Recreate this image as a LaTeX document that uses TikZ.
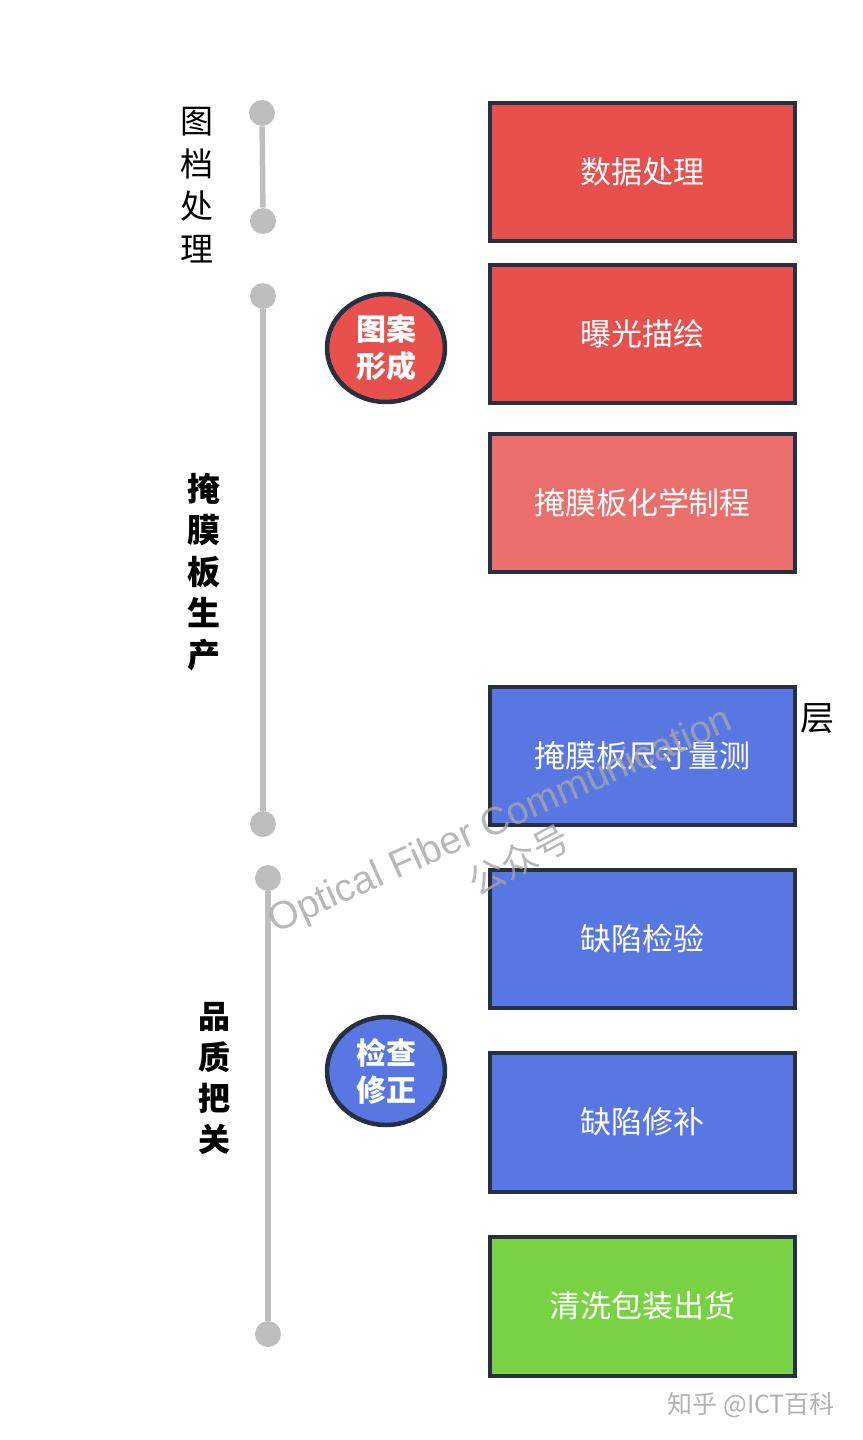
\documentclass[tikz,border=0pt]{standalone}
\usepackage{fontspec}
\usepackage{xcolor}
\usetikzlibrary{shapes.geometric, positioning}
\setmainfont{Liberation Sans}
\newfontfamily\cjk{Noto Sans CJK SC}
\definecolor{stepred}{HTML}{E8504D}
\definecolor{steppink}{HTML}{EA6F6C}
\definecolor{stepblue}{HTML}{5877E3}
\definecolor{stepgreen}{HTML}{78D243}
\definecolor{edgedark}{HTML}{263040}
\definecolor{linegray}{HTML}{BEBEBE}
\tikzset{
  stagebox/.style={draw=edgedark, line width=0.08cm, minimum width=6.1cm, minimum height=2.78cm, inner sep=0pt, text=white, font=\cjk\fontsize{0.62cm}{0.75cm}\selectfont},
  badge/.style={ellipse, draw=edgedark, line width=0.09cm, minimum width=2.36cm, minimum height=2.16cm, inner sep=0pt, text=white, align=center, font=\cjk\bfseries\fontsize{0.6cm}{0.74cm}\selectfont},
  dot/.style={circle, fill=linegray, minimum size=0.52cm, inner sep=0pt},
  rail/.style={linegray, line width=0.11cm},
  phase/.style={align=center, font=\cjk\fontsize{0.66cm}{0.85cm}\selectfont},
  phasebold/.style={phase, font=\cjk\bfseries\fontsize{0.66cm}{0.83cm}\selectfont}
}
\begin{document}
\begin{tikzpicture}[x=0.02cm, y=-0.02cm]
      \useasboundingbox (0,0) rectangle (862,1440);

      \node[dot] (a1) at (262,113) {};
      \node[dot] (a2) at (263,221) {};
      \node[dot] (b1) at (263,296) {};
      \node[dot] (b2) at (263,824) {};
      \node[dot] (c1) at (268,878) {};
      \node[dot] (c2) at (268,1334) {};
      \draw [rail] (a1) -- (a2);
      \draw [rail] (b1) -- (b2);
      \draw [rail] (c1) -- (c2);

      \node[phase] (tuda) at (197,185) {图\\档\\处\\理};
      \node[phasebold] (yanmo) at (204,572) {掩\\膜\\板\\生\\产};
      \node[phasebold, font=\cjk\bfseries\fontsize{0.64cm}{0.82cm}\selectfont] (pinzhi) at (214,1078) {品\\质\\把\\关};

      \node[badge, fill=stepred] (tuan) at (386,348) {图案\\形成};
      \node[badge, fill=stepblue] (jiancha) at (386,1071) {检查\\修正};

      \node[stagebox, fill=stepred] (shuju) at (642.5,172) {数据处理};
      \node[stagebox, fill=stepred] (baoguang) at (642.5,334) {曝光描绘};
      \node[stagebox, fill=steppink] (huaxue) at (642.5,503) {掩膜板化学制程};
      \node[stagebox, fill=stepblue] (chicun) at (642.5,756) {掩膜板尺寸量测};
      \node[stagebox, fill=stepblue] (jianyan) at (642.5,939) {缺陷检验};
      \node[stagebox, fill=stepblue] (xiubu) at (642.5,1122) {缺陷修补};
      \node[stagebox, fill=stepgreen] (qingxi) at (642.5,1306) {清洗包装出货};

      \node[font=\cjk\fontsize{0.68cm}{0.8cm}\selectfont] (ceng) at (817,719) {层};

      \node[gray!70, opacity=0.8, rotate=24, font=\fontsize{0.78cm}{0.9cm}\selectfont] (mark) at (501,822) {Optical Fiber Communication};
      \node[gray!70, opacity=0.8, rotate=28, font=\cjk\fontsize{0.72cm}{0.9cm}\selectfont] (gongzhong) at (519,860) {公众号};
      \node[gray!60, anchor=east, font=\cjk\fontsize{0.5cm}{0.6cm}\selectfont] (zhihu) at (841,1405) {知乎 @ICT百科};
    \end{tikzpicture}
\end{document}
